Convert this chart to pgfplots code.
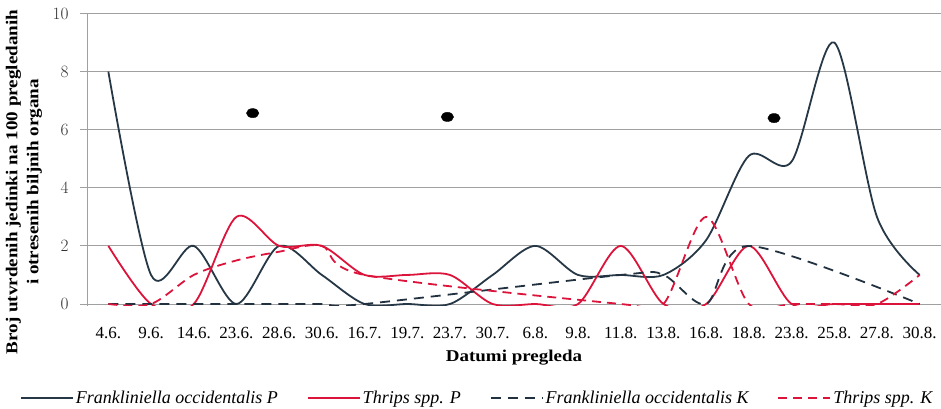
\documentclass[border=0pt]{standalone}
\usepackage{fontspec}
\setmainfont{Liberation Serif}
\newfontfamily\labfont[FakeStretch=1.15]{Liberation Serif}
\newfontfamily\ticksans{Liberation Sans}
\usepackage{pgfplots}
\pgfplotsset{compat=1.18}
\definecolor{navy}{HTML}{263746}
\definecolor{crim}{HTML}{DC143C}
\definecolor{gridgray}{HTML}{A0A0A0}
\begin{document}
\begin{tikzpicture}
\begin{axis}[
  at={(0,-1.743pt)}, anchor=south west,
  scale only axis, width=854pt, height=292.24pt,
  xmin=-0.5, xmax=19.5, ymin=-0.06, ymax=10,
  xtick={0,...,19},
  xticklabels={4.6.,9.6.,14.6.,23.6.,28.6.,30.6.,16.7.,19.7.,23.7.,30.7.,6.8.,9.8.,11.8.,13.8.,16.8.,18.8.,23.8.,25.8.,27.8.,30.8.},
  ytick={0,2,...,10},
  axis x line*=bottom, axis y line*=left,
  axis line style={-, draw=gridgray, line width=0.9pt},
  x axis line style={draw=none},
  ymajorgrids, grid style={draw=gridgray, line width=0.9pt},
  tick align=outside, major tick length=7pt,
  xtick style={draw=none},
  ytick style={draw=gridgray, line width=0.9pt},
  xticklabel style={font=\fontsize{17}{20}\selectfont, yshift=-10.5pt},
  yticklabel style={font=\ticksans\fontsize{17.5}{20}\selectfont, text=black!80, xshift=-8pt},
  xlabel={Datumi pregleda},
  xlabel style={at={(axis description cs:0.5,-0.1774)}, anchor=center, font=\labfont\bfseries\fontsize{16.5}{20}\selectfont},
  ylabel={Broj utvrdenih jedinki na 100 pregledanih\\ i otresenih biljnih organa},
  ylabel style={at={(axis description cs:-0.0738,0.4234)}, anchor=center, align=center, font=\labfont\bfseries\fontsize{16.6}{21}\selectfont},
  legend columns=4,
  legend style={at={(axis description cs:0.457,-0.3157)}, anchor=center, draw=none, fill=none,
    font=\itshape\fontsize{18}{20}\selectfont, inner sep=0pt,
    /tikz/every even column/.append style={column sep=27pt}},
  legend cell align=left,
  legend image code/.code={\draw[#1] (0pt,0pt) -- (52pt,0pt);},
]
\addplot[navy, line width=1.8pt, smooth] coordinates {
 (0,8) (1,1) (2,2) (3,0) (4,2) (5,1) (6,0) (7,0) (8,0) (9,1)
 (10,2) (11,1) (12,1) (13,1) (14,2.2) (15,5.1) (16,4.9) (17,9) (18,3) (19,1)};
\addlegendentry{Frankliniella occidentalis P}
\addplot[crim, line width=1.8pt, smooth] coordinates {
 (0,2) (1,0) (2,0) (3,3) (4,2) (5,2) (6,1) (7,1) (8,1) (9,0)
 (10,0) (11,0) (12,2) (13,0) (14,0) (15,2) (16,0) (17,0) (18,0) (19,0)};
\addlegendentry{Thrips spp. P}
\addplot[navy!90!black, line width=1.8pt, smooth, dash pattern=on 10pt off 7pt] coordinates {
 (0,0) (1,0) (2,0) (3,0) (4,0) (5,0) (6,0) (12,1) (13,1) (14,0) (15,2) (19,0)};
\addlegendentry{Frankliniella occidentalis K}
\addplot[crim, line width=1.8pt, smooth, dash pattern=on 9pt off 6pt] coordinates {
 (0,0) (1,0) (2,1) (3,1.5) (4,1.8) (5,2) (6,1) (12,0) (13,0) (14,3) (15,0) (16,0) (17,0) (18,0) (19,1)};
\addlegendentry{Thrips spp. K}
\addplot[only marks, mark=*, mark size=4.6pt, mark options={xscale=1.35, fill=black, draw=black}, forget plot] coordinates {
 (3.38,6.57) (7.94,6.44) (15.59,6.40)};
\end{axis}
\pgfresetboundingbox
\path[use as bounding box] (-87pt,-105pt) rectangle (854pt,304pt);
\end{tikzpicture}
\end{document}
